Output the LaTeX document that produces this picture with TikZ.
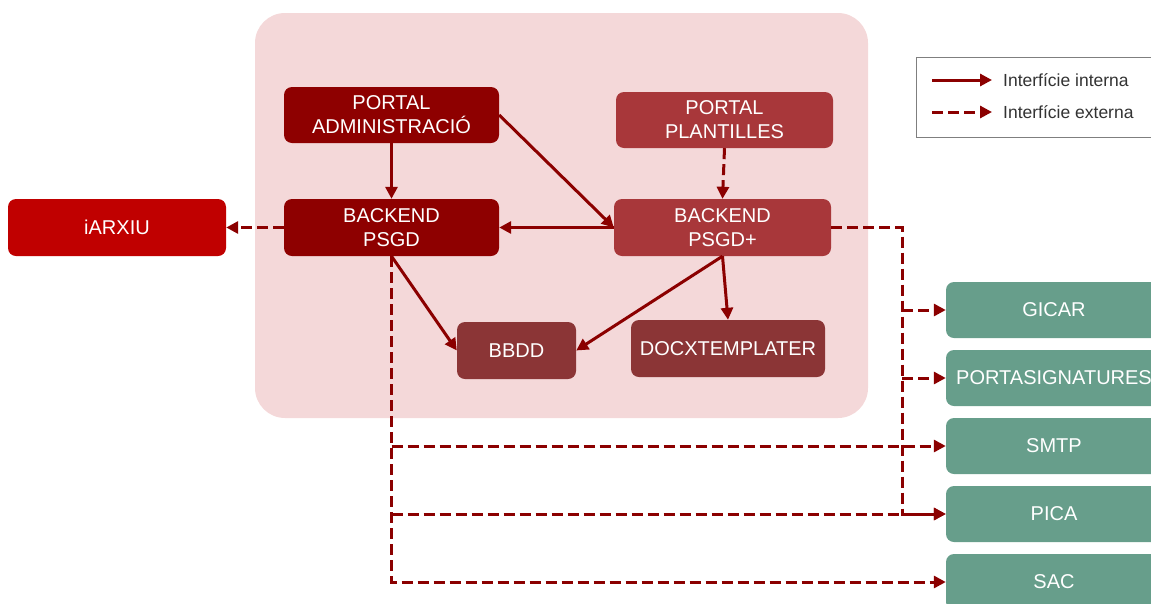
\documentclass[tikz,border=0pt]{standalone}
\usepackage{fontspec}
\setmainfont{Liberation Sans}
\usetikzlibrary{arrows.meta}
\definecolor{bgpink}{HTML}{F4D8D9}
\definecolor{dred}{HTML}{8E0000}
\definecolor{mred}{HTML}{A8373A}
\definecolor{bred}{HTML}{8B3536}
\definecolor{ired}{HTML}{C00000}
\definecolor{sgreen}{HTML}{679E8B}
\definecolor{arr}{HTML}{8B0000}
\definecolor{lgray}{HTML}{7F7F7F}
\tikzset{
  box/.style={rectangle, rounded corners=8pt, text=white, align=center,
    font=\fontsize{20}{24}\selectfont, inner sep=0pt, minimum height=57pt},
  intl/.style={draw=arr, line width=3pt, -{Triangle[length=12pt,width=12pt]}},
  extl/.style={intl, dash pattern=on 11pt off 5pt},
  legtext/.style={anchor=west, font=\fontsize{17.5}{20}\selectfont, text=black!80, inner sep=0pt}
}
\begin{document}
\begin{tikzpicture}[x=1pt,y=-1pt]
\useasboundingbox (0,0) rectangle (1151,603);
\clip (0,0) rectangle (1151,603);
% background
\fill[bgpink, rounded corners=30pt] (255,13) rectangle (868,418);
% nodes
\node[box, fill=dred, minimum width=215pt, minimum height=56pt] (pa) at (391.5,115) {PORTAL\\ADMINISTRACIÓ};
\node[box, fill=dred, minimum width=215pt] (bp) at (391.5,227.5) {BACKEND\\PSGD};
\node[box, fill=mred, minimum width=217pt, minimum height=56pt] (pp) at (724.5,120) {PORTAL\\PLANTILLES};
\node[box, fill=mred, minimum width=217pt] (bpp) at (722.5,227.5) {BACKEND\\PSGD+};
\node[box, fill=bred, minimum width=119pt] (bbdd) at (516.5,350.5) {BBDD};
\node[box, fill=bred, minimum width=194pt] (docx) at (728,348.5) {DOCXTEMPLATER};
\node[box, fill=ired, minimum width=218pt] (iarxiu) at (117,227.5) {iARXIU};
\node[box, fill=sgreen, minimum width=216pt, minimum height=56pt] (gicar) at (1054,310) {GICAR};
\node[box, fill=sgreen, minimum width=216pt, minimum height=56pt] (porta) at (1054,378) {PORTASIGNATURES};
\node[box, fill=sgreen, minimum width=216pt, minimum height=56pt] (smtp) at (1054,446) {SMTP};
\node[box, fill=sgreen, minimum width=216pt, minimum height=56pt] (pica) at (1054,514) {PICA};
\node[box, fill=sgreen, minimum width=216pt, minimum height=56pt] (sac) at (1054,582) {SAC};
% internal arrows
\draw[intl] (pa.south) -- (bp.north);
\draw[intl] (pa.east) -- (bpp.west);
\draw[intl] (bpp.west) -- (bp.east);
\draw[intl] (bp.south) -- (bbdd.west);
\draw[intl] (bpp.south) -- (bbdd.east);
\draw[intl] (bpp.south) -- (docx.north);
% external arrows
\draw[extl] (pp.south) -- (bpp.north);
\draw[extl] (bp.west) -- (iarxiu.east);
\coordinate (jr) at (902,228);
\draw[extl] (bpp.east) -| (jr |- pica.west) -- (pica.west);
\draw[extl] (jr |- gicar.west) -- (gicar.west);
\draw[extl] (jr |- porta.west) -- (porta.west);
\draw[extl] (bp.south) |- (sac.west);
\draw[extl] (bp.south |- smtp.west) -- (smtp.west);
\draw[extl] (bp.south |- pica.west) -- (pica.west);
% legend
\node[draw=lgray, line width=1pt, fill=white, minimum width=235pt, minimum height=80pt, inner sep=0pt] (leg) at (1033.5,97) {};
\coordinate (l1a) at (932,80);
\coordinate (l1b) at (992,80);
\coordinate (l2a) at (932,112);
\coordinate (l2b) at (992,112);
\draw[intl] (l1a) -- (l1b);
\draw[extl] (l2a) -- (l2b);
\node[legtext] (t1) at (1003,80) {Interfície interna};
\node[legtext] (t2) at (1003,112) {Interfície externa};
\end{tikzpicture}
\end{document}
